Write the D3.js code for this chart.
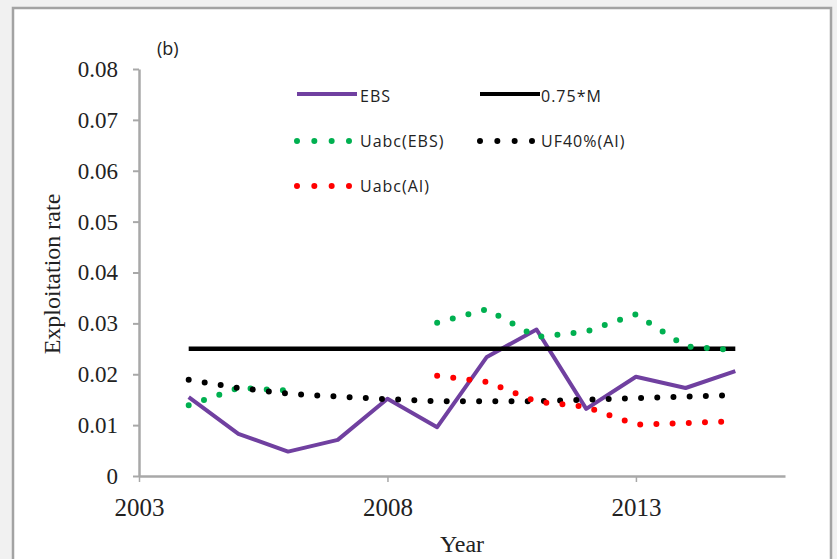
<!DOCTYPE html>
<html>
<head>
<meta charset="utf-8">
<script src="https://cdn.jsdelivr.net/npm/d3@7"></script>
<style>
  html, body { margin: 0; padding: 0; background: #fff; }
  svg { display: block; }
</style>
</head>
<body>
<svg id="chart" width="837" height="559"></svg>
<script>
// Exploitation rate by year, panel (b)
const years = [2004, 2005, 2006, 2007, 2008, 2009, 2010, 2011, 2012, 2013, 2014, 2015];
const ebs        = [0.0155, 0.0083, 0.0048, 0.0071, 0.0152, 0.0096, 0.0234, 0.0288, 0.0132, 0.0195, 0.0173, 0.0206];
const mortality75 = [0.025, 0.025, 0.025, 0.025, 0.025, 0.025, 0.025, 0.025, 0.025, 0.025, 0.025, 0.025];
const uabcEBS    = [0.0139, 0.0173, 0.0168, null, null, 0.0301, 0.0328, 0.0273, 0.0284, 0.0318, 0.0255, 0.0247];
const uf40AI     = [0.0189, 0.0173, 0.0162, 0.0156, 0.0151, 0.0147, 0.0147, 0.0147, 0.0150, 0.0153, 0.0156, 0.0159];
const uabcAI     = [null, null, null, null, null, 0.0197, 0.0185, 0.0146, 0.0136, 0.0101, 0.0104, 0.0108];

const xTicks = [2003, 2008, 2013];
const yTicks = [0, 0.01, 0.02, 0.03, 0.04, 0.05, 0.06, 0.07, 0.08];
const seriesNames = ["EBS", "0.75*M", "Uabc(EBS)", "UF40%(AI)", "Uabc(AI)"];

const svg = d3.select("#chart");

// page background and outer frame
svg.append("rect").attr("width", 837).attr("height", 559).attr("fill", "#f1f1f1");
svg.append("rect")
  .attr("x", 13).attr("y", 8).attr("width", 818).attr("height", 600)
  .attr("fill", "#fff").attr("stroke", "#a3a3a3").attr("stroke-width", 2.5);

const x = d3.scaleLinear().domain([2003, 2016]).range([139, 785]);
const y = d3.scaleLinear().domain([0, 0.08]).range([476, 69]);

const axisColor = "#a8a8a8";

// y axis
const gy = svg.append("g").attr("transform", "translate(139,0)")
  .call(d3.axisLeft(y).tickValues(yTicks).tickSize(6).tickSizeOuter(0).tickPadding(15)
    .tickFormat(d => d === 0 ? "0" : d3.format(".2f")(d)));
gy.select(".domain").attr("stroke", axisColor).attr("stroke-width", 2.5);
gy.selectAll(".tick line").attr("stroke", axisColor).attr("stroke-width", 2);
gy.selectAll(".tick text")
  .attr("font-family", "'Liberation Serif', 'Times New Roman', serif")
  .attr("font-size", 23).attr("fill", "#222");

// x axis
const gx = svg.append("g").attr("transform", "translate(0,476)")
  .call(d3.axisBottom(x).tickValues(xTicks).tickSize(6).tickSizeOuter(0).tickFormat(d3.format("d")));
gx.select(".domain").attr("stroke", axisColor).attr("stroke-width", 2.5);
gx.selectAll(".tick line").attr("stroke", axisColor).attr("stroke-width", 1.5);
gx.selectAll(".tick text")
  .attr("y", 40).attr("dy", null)
  .attr("font-family", "'Liberation Serif', 'Times New Roman', serif")
  .attr("font-size", 25).attr("fill", "#222");

// axis titles
svg.append("text")
  .attr("x", 462).attr("y", 552)
  .attr("text-anchor", "middle")
  .attr("font-family", "'Liberation Serif', 'Times New Roman', serif")
  .attr("font-size", 24).attr("fill", "#222")
  .text("Year");

svg.append("text")
  .attr("transform", "translate(60,274) rotate(-90)")
  .attr("text-anchor", "middle")
  .attr("font-family", "'Liberation Serif', 'Times New Roman', serif")
  .attr("font-size", 24).attr("fill", "#222")
  .text("Exploitation rate");

// panel tag
svg.append("text")
  .attr("x", 157).attr("y", 55)
  .attr("font-family", "'Open Sans', sans-serif")
  .attr("font-size", 18).attr("fill", "#222")
  .text("(b)");

// series definitions
const dotDash = "0 16.2";
const series = [
  { name: seriesNames[0], values: ebs,         color: "#7040a0", width: 4,   dash: null },
  { name: seriesNames[1], values: mortality75, color: "#000000", width: 4.5, dash: null },
  { name: seriesNames[2], values: uabcEBS,     color: "#00b050", width: 6,   dash: dotDash },
  { name: seriesNames[3], values: uf40AI,      color: "#000000", width: 6,   dash: dotDash },
  { name: seriesNames[4], values: uabcAI,      color: "#ff0000", width: 6,   dash: dotDash }
];

const line = d3.line()
  .defined(d => d.v !== null)
  .x(d => x(d.year))
  .y(d => y(d.v));

series.forEach(s => {
  const pts = years.map((yr, i) => ({ year: yr, v: s.values[i] }));
  svg.append("path")
    .datum(pts)
    .attr("d", line)
    .attr("fill", "none")
    .attr("stroke", s.color)
    .attr("stroke-width", s.width)
    .attr("stroke-linecap", s.dash ? "round" : "butt")
    .attr("stroke-linejoin", "round")
    .attr("stroke-dasharray", s.dash);
});

// legend
const legendPos = [
  { lx: 297, tx: 360, ly: 94,  ty: 102 },
  { lx: 480, tx: 541, ly: 94,  ty: 102 },
  { lx: 297, tx: 360, ly: 141, ty: 147 },
  { lx: 480, tx: 541, ly: 141, ty: 147 },
  { lx: 297, tx: 360, ly: 186, ty: 192 }
];

series.forEach((s, i) => {
  const p = legendPos[i];
  const g = svg.append("g");
  if (s.dash) {
    g.append("line")
      .attr("x1", p.lx).attr("x2", p.lx + 52)
      .attr("y1", p.ly).attr("y2", p.ly)
      .attr("stroke", s.color).attr("stroke-width", 6)
      .attr("stroke-linecap", "round")
      .attr("stroke-dasharray", "0 17.33");
  } else {
    g.append("line")
      .attr("x1", p.lx).attr("x2", p.lx + 60)
      .attr("y1", p.ly).attr("y2", p.ly)
      .attr("stroke", s.color).attr("stroke-width", 4);
  }
  g.append("text")
    .attr("x", p.tx).attr("y", p.ty)
    .attr("font-family", "'Open Sans', sans-serif")
    .attr("font-size", 16).attr("letter-spacing", 1)
    .attr("fill", "#222")
    .text(s.name);
});
</script>
</body>
</html>
